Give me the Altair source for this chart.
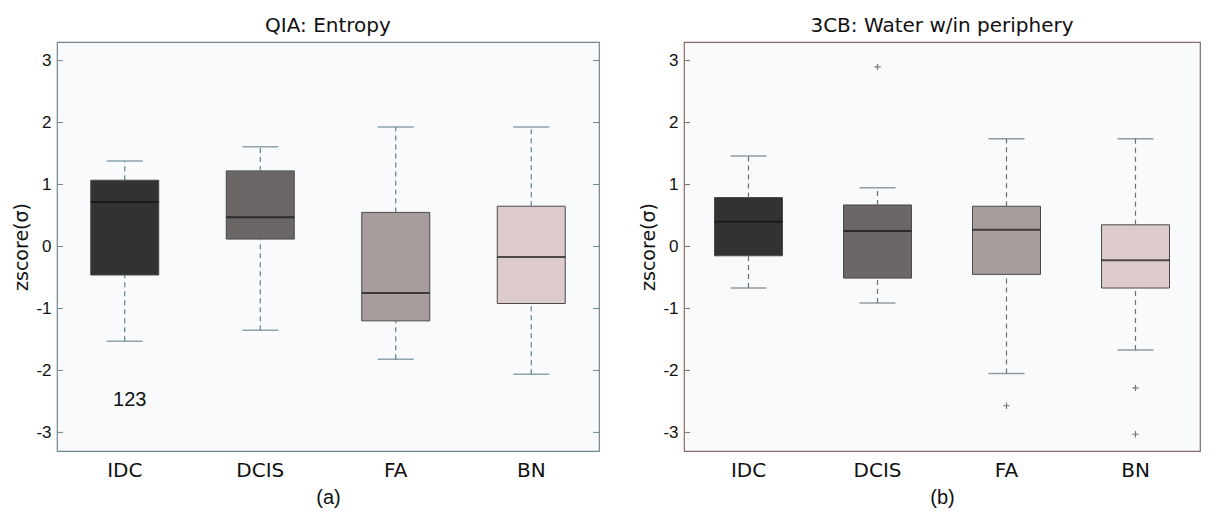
import altair as alt
import pandas as pd

categories = ["IDC", "DCIS", "FA", "BN"]
box_colors = ["#343131", "#6c6666", "#a89d9d", "#ddcaca"]
tick_values = [-3, -2, -1, 0, 1, 2, 3]

# Panel (a): QIA: Entropy
a_lower = [-1.53, -1.35, -1.82, -2.06]
a_q1 = [-0.46, 0.12, -1.20, -0.92]
a_median = [0.72, 0.47, -0.75, -0.17]
a_q3 = [1.07, 1.22, 0.55, 0.65]
a_upper = [1.38, 1.61, 1.93, 1.93]
a_out_cat = []
a_out_val = []
a_note_cat = ["IDC"]
a_note_val = [-2.48]
a_note_text = ["123"]

# Panel (b): 3CB: Water w/in periphery
b_lower = [-0.67, -0.91, -2.05, -1.67]
b_q1 = [-0.15, -0.51, -0.45, -0.67]
b_median = [0.40, 0.25, 0.27, -0.22]
b_q3 = [0.79, 0.67, 0.65, 0.35]
b_upper = [1.46, 0.95, 1.74, 1.74]
b_out_cat = ["DCIS", "FA", "BN", "BN"]
b_out_val = [2.90, -2.57, -2.28, -3.03]

HEIGHT = 409


def panel(lower, q1, med, q3, upper, out_cat, out_val, title, caption,
          width, frame, whisk, right_ticks=True, note=None):
    df = pd.DataFrame({"cat": categories, "lower": lower, "q1": q1,
                       "median": med, "q3": q3, "upper": upper})
    xenc = alt.X("cat:N", sort=categories,
                 scale=alt.Scale(paddingInner=0, paddingOuter=0),
                 axis=alt.Axis(title=caption, labelAngle=0, ticks=False, domain=False,
                               labelFont="DejaVu Sans", labelFontSize=20,
                               labelColor="#111", labelPadding=9,
                               titleFont="Liberation Sans", titleFontSize=20,
                               titleFontWeight="normal", titleColor="#111",
                               titlePadding=7))
    yscale = alt.Scale(domain=[-3.3, 3.3], nice=False, zero=False)
    yaxis = alt.Axis(title="zscore(σ)", values=tick_values, grid=False, ticks=False,
                     domain=False, labelFont="Liberation Sans", labelFontSize=17,
                     labelColor="#111", labelPadding=6,
                     labelExpr="datum.value < 0 ? '-' + abs(datum.value) : '' + datum.value",
                     titleFont="DejaVu Sans", titleFontSize=19,
                     titleFontWeight="normal", titleColor="#111", titlePadding=4)
    base = alt.Chart(df).encode(x=xenc)
    box = base.mark_bar(size=68, stroke="#4a4a4a", strokeWidth=1).encode(
        y=alt.Y("q1:Q", scale=yscale, axis=yaxis),
        y2="q3:Q",
        color=alt.Color("cat:N", sort=categories,
                        scale=alt.Scale(domain=categories, range=box_colors),
                        legend=None))
    wu = base.mark_rule(color=whisk, strokeDash=[5, 4], strokeWidth=1.2).encode(
        y="q3:Q", y2="upper:Q")
    wl = base.mark_rule(color=whisk, strokeDash=[5, 4], strokeWidth=1.2).encode(
        y="lower:Q", y2="q1:Q")
    cu = base.mark_tick(size=36, thickness=1.5, color=whisk).encode(y="upper:Q")
    cl = base.mark_tick(size=36, thickness=1.5, color=whisk).encode(y="lower:Q")
    md = base.mark_tick(size=68, thickness=2, color="#111").encode(y="median:Q")
    tdf = pd.DataFrame({"v": tick_values})
    tl = alt.Chart(tdf).mark_rule(color=frame, strokeWidth=1).encode(
        y="v:Q", x=alt.value(0), x2=alt.value(6))
    layers = [box, wu, wl, cu, cl, md, tl]
    if right_ticks:
        tr = alt.Chart(tdf).mark_rule(color=frame, strokeWidth=1).encode(
            y="v:Q", x=alt.value(width - 6), x2=alt.value(width))
        layers.append(tr)
    if out_cat:
        odf = pd.DataFrame({"cat": out_cat, "v": out_val})
        outl = alt.Chart(odf).mark_point(
            shape="M-1,0L1,0M0,-1L0,1", size=40, filled=False,
            stroke="#4a4040", strokeWidth=1.2).encode(
            x=alt.X("cat:N", sort=categories), y="v:Q")
        layers.append(outl)
    if note is not None:
        ndf = pd.DataFrame({"cat": note[0], "v": note[1], "t": note[2]})
        nt = alt.Chart(ndf).mark_text(font="Liberation Sans", fontSize=20,
                                      color="#111", dx=5).encode(
            x=alt.X("cat:N", sort=categories), y="v:Q", text="t:N")
        layers.append(nt)
    return alt.layer(*layers).properties(
        width=width, height=HEIGHT,
        title=alt.TitleParams(title, font="DejaVu Sans", fontSize=20,
                              fontWeight="normal", color="#111", offset=6),
        view=alt.ViewBackground(fill="#f8fafc", stroke=frame, strokeWidth=1.2))


left = panel(a_lower, a_q1, a_median, a_q3, a_upper, a_out_cat, a_out_val,
             "QIA: Entropy", "(a)", 542, "#6f8790", "#5f7f8c",
             note=(a_note_cat, a_note_val, a_note_text))
right = panel(b_lower, b_q1, b_median, b_q3, b_upper, b_out_cat, b_out_val,
              "3CB: Water w/in periphery", "(b)", 516, "#8a6a66", "#6a7077",
              right_ticks=False)

chart = alt.hconcat(left, right, spacing=38).properties(
    padding={"left": 4, "top": 7, "right": 0, "bottom": 0}
).configure(background="#ffffff")

chart.save("out.html", embed_options={"renderer": "svg", "actions": False})
